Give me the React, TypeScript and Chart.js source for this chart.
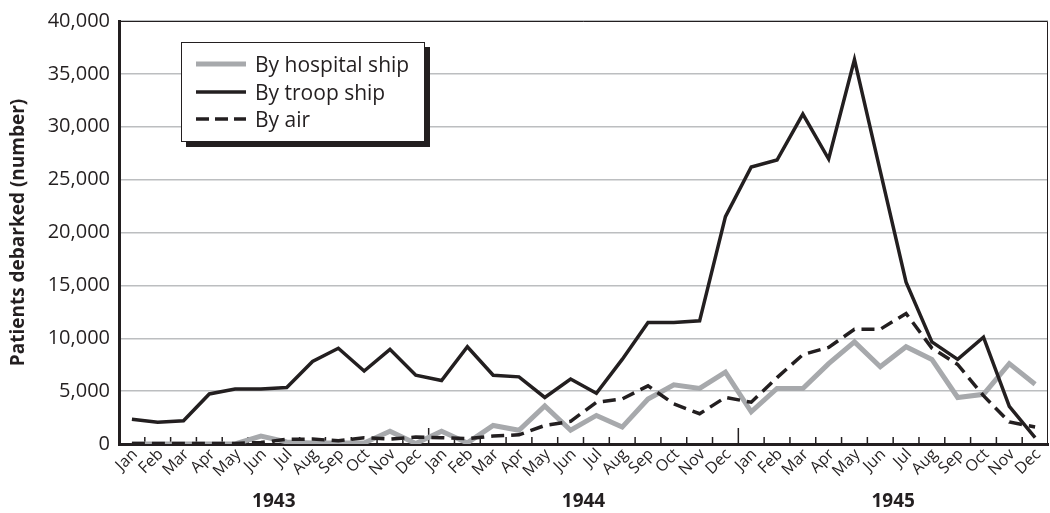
import React, { useEffect, useRef } from 'react';
import { Chart, registerables } from 'chart.js';

Chart.register(...registerables);

const INK = '#231f20';
const GRAY = '#a7a9ac';
const FONT = '"Open Sans", "Noto Sans", sans-serif';

const monthLabels = [
  'Jan', 'Feb', 'Mar', 'Apr', 'May', 'Jun', 'Jul', 'Aug', 'Sep', 'Oct', 'Nov', 'Dec',
  'Jan', 'Feb', 'Mar', 'Apr', 'May', 'Jun', 'Jul', 'Aug', 'Sep', 'Oct', 'Nov', 'Dec',
  'Jan', 'Feb', 'Mar', 'Apr', 'May', 'Jun', 'Jul', 'Aug', 'Sep', 'Oct', 'Nov', 'Dec',
];
const yearLabels = ['1943', '1944', '1945'];

const hospitalShip = [
  0, 0, 0, 0, 0, 750, 200, 100, 100, 100, 1200, 50,
  1200, 100, 1750, 1300, 3600, 1300, 2700, 1600, 4250, 5600, 5250, 6800,
  3050, 5250, 5250, 7600, 9650, 7300, 9200, 8000, 4400, 4700, 7600, 5650,
];
const troopShip = [
  2330, 2050, 2200, 4730, 5200, 5200, 5350, 7800, 9050, 6900, 8950, 6500,
  6000, 9200, 6500, 6350, 4400, 6150, 4800, 8000, 11500, 11500, 11650, 21500,
  26200, 26850, 31200, 26950, 36350, 25800, 15300, 9650, 8000, 10100, 3550, 600,
];
const byAir = [
  50, 50, 50, 50, 50, 150, 440, 470, 300, 590, 470, 650,
  600, 500, 750, 870, 1750, 2140, 3950, 4260, 5500, 3790, 2860, 4410,
  3950, 6280, 8450, 9140, 10850, 10850, 12340, 9070, 7520, 4570, 2080, 1610,
];

const yTicks = { min: 0, max: 40000, step: 5000 };

const decorPlugin = {
  id: 'decor',
  beforeDatasetsDraw(chart: any) {
    const { ctx, chartArea: a, scales } = chart;
    const xs = scales.x;
    ctx.save();
    ctx.strokeStyle = INK;
    // top and right frame
    ctx.lineWidth = 1;
    ctx.beginPath();
    ctx.moveTo(a.left, Math.round(a.top) + 0.5);
    ctx.lineTo(Math.round(a.right) - 0.5, Math.round(a.top) + 0.5);
    ctx.lineTo(Math.round(a.right) - 0.5, a.bottom);
    ctx.stroke();
    // inward tick marks at category boundaries
    ctx.lineWidth = 1.5;
    const n = monthLabels.length;
    for (let i = 1; i < n; i++) {
      const px = (xs.getPixelForValue(i - 1) + xs.getPixelForValue(i)) / 2;
      const len = i % 12 === 0 ? 16 : 7;
      ctx.beginPath();
      ctx.moveTo(px, a.bottom);
      ctx.lineTo(px, a.bottom - len);
      ctx.stroke();
    }
    ctx.restore();
  },
};

function LegendRow({ top, label, color, width, dash }: { top: number; label: string; color: string; width: number; dash?: string }) {
  return (
    <div style={{ position: 'absolute', left: 0, top: top - 15, height: 30, display: 'flex', alignItems: 'center' }}>
      <svg width={80} height={12} style={{ display: 'block' }}>
        <line x1={14} y1={6} x2={64} y2={6} stroke={color} strokeWidth={width} strokeDasharray={dash} />
      </svg>
      <span style={{ marginLeft: -7, whiteSpace: 'nowrap' }}>{label}</span>
    </div>
  );
}

export default function App() {
  const canvasRef = useRef<HTMLCanvasElement | null>(null);

  useEffect(() => {
    if (!canvasRef.current) return;
    const chart = new Chart(canvasRef.current, {
      type: 'line',
      data: {
        labels: monthLabels,
        datasets: [
          {
            label: 'By troop ship',
            data: troopShip,
            borderColor: INK,
            borderWidth: 3.5,
            pointRadius: 0,
            tension: 0,
            borderJoinStyle: 'miter',
            order: 1,
          },
          {
            label: 'By air',
            data: byAir,
            borderColor: INK,
            borderWidth: 3.5,
            borderDash: [13, 7],
            pointRadius: 0,
            tension: 0,
            order: 2,
          },
          {
            label: 'By hospital ship',
            data: hospitalShip,
            borderColor: GRAY,
            borderWidth: 5,
            pointRadius: 0,
            tension: 0,
            order: 3,
          },
        ],
      },
      options: {
        responsive: false,
        animation: false,
        layout: { padding: { top: 14, right: 2, left: 0, bottom: 0 } },
        plugins: { legend: { display: false }, tooltip: { enabled: false } },
        scales: {
          x: {
            type: 'category',
            position: 'bottom',
            offset: true,
            weight: 0,
            grid: { display: true, drawOnChartArea: false, drawTicks: false, offset: true },
            border: { display: true, width: 3, color: INK },
            ticks: {
              autoSkip: false,
              minRotation: 45,
              maxRotation: 45,
              padding: 1,
              labelOffset: 3,
              color: INK,
              font: { family: FONT, size: 16 },
            },
            afterFit: (s: any) => {
              s.height = 38;
            },
          },
          year: {
            type: 'category',
            labels: yearLabels,
            position: 'bottom',
            offset: true,
            weight: 1,
            grid: { display: false, drawTicks: false },
            border: { display: false },
            ticks: {
              autoSkip: false,
              maxRotation: 0,
              minRotation: 0,
              padding: 8,
              color: INK,
              font: { family: FONT, size: 19, weight: 'bold' },
            },
            afterFit: (s: any) => {
              s.height = 31;
            },
          },
          y: {
            min: yTicks.min,
            max: yTicks.max,
            ticks: {
              stepSize: yTicks.step,
              padding: 9,
              color: INK,
              font: { family: FONT, size: 20 },
              callback: (v: any) => Number(v).toLocaleString('en-US'),
            },
            grid: { color: '#bcbec0', lineWidth: 1.5, drawTicks: false },
            border: { display: true, width: 3, color: INK },
            title: {
              display: true,
              text: 'Patients debarked (number)',
              color: INK,
              font: { family: FONT, size: 19, weight: 'bold' },
              padding: { top: 7, bottom: 0 },
            },
            afterFit: (s: any) => {
              s.width = 119;
            },
          },
        },
      },
      plugins: [decorPlugin],
    } as any);
    return () => chart.destroy();
  }, []);

  return (
    <div style={{ position: 'absolute', left: 0, top: 0, width: 1050, height: 513, background: '#fff' }}>
      <canvas ref={canvasRef} width={1050} height={513} style={{ display: 'block', width: 1050, height: 513 }} />
      <div
        style={{
          position: 'absolute',
          left: 181,
          top: 42,
          width: 244,
          height: 100,
          boxSizing: 'border-box',
          border: `1px solid ${INK}`,
          background: '#fff',
          boxShadow: `5px 5px 0 ${INK}`,
          fontFamily: FONT,
          fontSize: 21,
          color: INK,
        }}
      >
        <LegendRow top={21} label="By hospital ship" color={GRAY} width={5} />
        <LegendRow top={49} label="By troop ship" color={INK} width={3.5} />
        <LegendRow top={76} label="By air" color={INK} width={3.5} dash="13 6" />
      </div>
    </div>
  );
}
